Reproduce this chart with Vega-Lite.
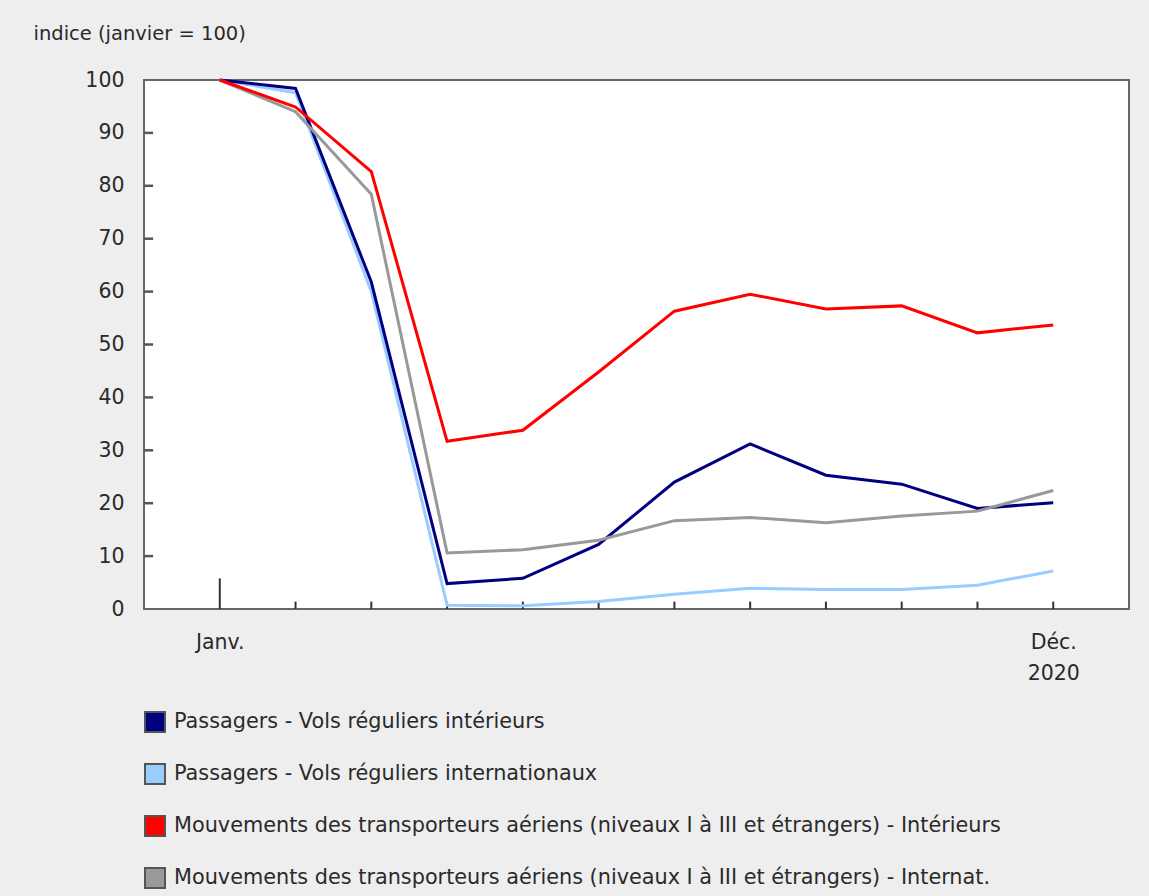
{
  "$schema": "https://vega.github.io/schema/vega-lite/v6.json",
  "width": 985,
  "height": 529,
  "autosize": {"type": "none"},
  "padding": {"left": 144, "top": 80, "right": 20, "bottom": 287},
  "background": "#eeeeee",
  "config": {
    "font": "DejaVu Sans",
    "view": {"fill": "white", "stroke": "#666666", "strokeWidth": 2},
    "axis": {"labelFont": "DejaVu Sans", "labelColor": "#2a2a2a", "labelFontSize": 20.5, "grid": false, "domain": false, "ticks": false}
  },
  "resolve": {"legend": {"color": "independent"}},
  "datasets": {
    "series": [
      {"serie": "Passagers - Vols réguliers internationaux", "mois": 1, "valeur": 100},
      {"serie": "Passagers - Vols réguliers internationaux", "mois": 2, "valeur": 97.6},
      {"serie": "Passagers - Vols réguliers internationaux", "mois": 3, "valeur": 60.0},
      {"serie": "Passagers - Vols réguliers internationaux", "mois": 4, "valeur": 0.7},
      {"serie": "Passagers - Vols réguliers internationaux", "mois": 5, "valeur": 0.6},
      {"serie": "Passagers - Vols réguliers internationaux", "mois": 6, "valeur": 1.4},
      {"serie": "Passagers - Vols réguliers internationaux", "mois": 7, "valeur": 2.8},
      {"serie": "Passagers - Vols réguliers internationaux", "mois": 8, "valeur": 3.9},
      {"serie": "Passagers - Vols réguliers internationaux", "mois": 9, "valeur": 3.7},
      {"serie": "Passagers - Vols réguliers internationaux", "mois": 10, "valeur": 3.7},
      {"serie": "Passagers - Vols réguliers internationaux", "mois": 11, "valeur": 4.5},
      {"serie": "Passagers - Vols réguliers internationaux", "mois": 12, "valeur": 7.2},
      {"serie": "Passagers - Vols réguliers intérieurs", "mois": 1, "valeur": 100},
      {"serie": "Passagers - Vols réguliers intérieurs", "mois": 2, "valeur": 98.4},
      {"serie": "Passagers - Vols réguliers intérieurs", "mois": 3, "valeur": 61.8},
      {"serie": "Passagers - Vols réguliers intérieurs", "mois": 4, "valeur": 4.8},
      {"serie": "Passagers - Vols réguliers intérieurs", "mois": 5, "valeur": 5.8},
      {"serie": "Passagers - Vols réguliers intérieurs", "mois": 6, "valeur": 12.2},
      {"serie": "Passagers - Vols réguliers intérieurs", "mois": 7, "valeur": 24.0},
      {"serie": "Passagers - Vols réguliers intérieurs", "mois": 8, "valeur": 31.2},
      {"serie": "Passagers - Vols réguliers intérieurs", "mois": 9, "valeur": 25.3},
      {"serie": "Passagers - Vols réguliers intérieurs", "mois": 10, "valeur": 23.6},
      {"serie": "Passagers - Vols réguliers intérieurs", "mois": 11, "valeur": 19.0},
      {"serie": "Passagers - Vols réguliers intérieurs", "mois": 12, "valeur": 20.1},
      {"serie": "Mouvements des transporteurs aériens (niveaux I à III et étrangers) - Internat.", "mois": 1, "valeur": 100},
      {"serie": "Mouvements des transporteurs aériens (niveaux I à III et étrangers) - Internat.", "mois": 2, "valeur": 94.0},
      {"serie": "Mouvements des transporteurs aériens (niveaux I à III et étrangers) - Internat.", "mois": 3, "valeur": 78.4},
      {"serie": "Mouvements des transporteurs aériens (niveaux I à III et étrangers) - Internat.", "mois": 4, "valeur": 10.6},
      {"serie": "Mouvements des transporteurs aériens (niveaux I à III et étrangers) - Internat.", "mois": 5, "valeur": 11.2},
      {"serie": "Mouvements des transporteurs aériens (niveaux I à III et étrangers) - Internat.", "mois": 6, "valeur": 13.0},
      {"serie": "Mouvements des transporteurs aériens (niveaux I à III et étrangers) - Internat.", "mois": 7, "valeur": 16.7},
      {"serie": "Mouvements des transporteurs aériens (niveaux I à III et étrangers) - Internat.", "mois": 8, "valeur": 17.3},
      {"serie": "Mouvements des transporteurs aériens (niveaux I à III et étrangers) - Internat.", "mois": 9, "valeur": 16.3},
      {"serie": "Mouvements des transporteurs aériens (niveaux I à III et étrangers) - Internat.", "mois": 10, "valeur": 17.6},
      {"serie": "Mouvements des transporteurs aériens (niveaux I à III et étrangers) - Internat.", "mois": 11, "valeur": 18.5},
      {"serie": "Mouvements des transporteurs aériens (niveaux I à III et étrangers) - Internat.", "mois": 12, "valeur": 22.4},
      {"serie": "Mouvements des transporteurs aériens (niveaux I à III et étrangers) - Intérieurs", "mois": 1, "valeur": 100},
      {"serie": "Mouvements des transporteurs aériens (niveaux I à III et étrangers) - Intérieurs", "mois": 2, "valeur": 94.9},
      {"serie": "Mouvements des transporteurs aériens (niveaux I à III et étrangers) - Intérieurs", "mois": 3, "valeur": 82.7},
      {"serie": "Mouvements des transporteurs aériens (niveaux I à III et étrangers) - Intérieurs", "mois": 4, "valeur": 31.7},
      {"serie": "Mouvements des transporteurs aériens (niveaux I à III et étrangers) - Intérieurs", "mois": 5, "valeur": 33.8},
      {"serie": "Mouvements des transporteurs aériens (niveaux I à III et étrangers) - Intérieurs", "mois": 6, "valeur": 44.8},
      {"serie": "Mouvements des transporteurs aériens (niveaux I à III et étrangers) - Intérieurs", "mois": 7, "valeur": 56.3},
      {"serie": "Mouvements des transporteurs aériens (niveaux I à III et étrangers) - Intérieurs", "mois": 8, "valeur": 59.5},
      {"serie": "Mouvements des transporteurs aériens (niveaux I à III et étrangers) - Intérieurs", "mois": 9, "valeur": 56.7},
      {"serie": "Mouvements des transporteurs aériens (niveaux I à III et étrangers) - Intérieurs", "mois": 10, "valeur": 57.3},
      {"serie": "Mouvements des transporteurs aériens (niveaux I à III et étrangers) - Intérieurs", "mois": 11, "valeur": 52.2},
      {"serie": "Mouvements des transporteurs aériens (niveaux I à III et étrangers) - Intérieurs", "mois": 12, "valeur": 53.7}
    ],
    "moisTicks": [
      {"mois": 1}, {"mois": 2}, {"mois": 3}, {"mois": 4}, {"mois": 5}, {"mois": 6},
      {"mois": 7}, {"mois": 8}, {"mois": 9}, {"mois": 10}, {"mois": 11}, {"mois": 12}
    ],
    "yTicks": [
      {"valeur": 10}, {"valeur": 20}, {"valeur": 30}, {"valeur": 40}, {"valeur": 50},
      {"valeur": 60}, {"valeur": 70}, {"valeur": 80}, {"valeur": 90}
    ]
  },
  "layer": [
    {
      "data": {"name": "yTicks"},
      "mark": {"type": "rule", "color": "#555555", "strokeWidth": 2.5},
      "encoding": {
        "y": {"field": "valeur", "type": "quantitative"},
        "x": {"datum": 0},
        "x2": {"datum": 0.12}
      }
    },
    {
      "data": {"name": "moisTicks"},
      "transform": [{"filter": "datum.mois == 1"}],
      "mark": {"type": "rule", "color": "#333333", "strokeWidth": 2},
      "encoding": {
        "x": {"field": "mois", "type": "quantitative", "title": null},
        "y": {"datum": 0},
        "y2": {"datum": 5.8}
      }
    },
    {
      "data": {"name": "moisTicks"},
      "transform": [{"filter": "datum.mois > 1"}],
      "mark": {"type": "rule", "color": "#333333", "strokeWidth": 2},
      "encoding": {
        "x": {"field": "mois", "type": "quantitative", "title": null},
        "y": {"datum": 0},
        "y2": {"datum": 1.4}
      }
    },
    {
      "data": {"name": "series"},
      "mark": {"type": "line", "strokeWidth": 3},
      "encoding": {
        "x": {
          "field": "mois", "type": "quantitative",
          "scale": {"domain": [0, 13], "nice": false, "zero": false},
          "title": null,
          "axis": {
            "values": [1, 2, 3, 4, 5, 6, 7, 8, 9, 10, 11, 12],
            "labelExpr": "datum.value == 1 ? 'Janv.' : (datum.value == 12 ? ['Déc.', '2020'] : '')",
            "labelPadding": 23,
            "labelBaseline": "top",
            "labelLineHeight": 31,
            "labelAlign": "center",
            "labelOverlap": false
          }
        },
        "y": {
          "field": "valeur", "type": "quantitative",
          "scale": {"domain": [0, 100], "nice": false},
          "axis": {
            "values": [0, 10, 20, 30, 40, 50, 60, 70, 80, 90, 100],
            "labelPadding": 20,
            "title": "indice (janvier = 100)",
            "titleAngle": 0,
            "titleX": -111,
            "titleY": -47,
            "titleAlign": "left",
            "titleBaseline": "middle",
            "titleFontSize": 19.5,
            "titleFontWeight": "normal",
            "titleColor": "#2a2a2a",
            "titleFont": "DejaVu Sans"
          }
        },
        "color": {
          "field": "serie", "type": "nominal",
          "scale": {
            "domain": [
              "Passagers - Vols réguliers intérieurs",
              "Passagers - Vols réguliers internationaux",
              "Mouvements des transporteurs aériens (niveaux I à III et étrangers) - Intérieurs",
              "Mouvements des transporteurs aériens (niveaux I à III et étrangers) - Internat."
            ],
            "range": ["#000080", "#99ccff", "#ff0000", "#999999"]
          },
          "legend": null
        }
      }
    },
    {
      "data": {"name": "series"},
      "transform": [{"filter": "datum.mois == 0"}],
      "mark": {"type": "square", "filled": true, "stroke": "#555555", "strokeWidth": 2, "opacity": 1},
      "encoding": {
        "x": {"field": "mois", "type": "quantitative"},
        "y": {"field": "valeur", "type": "quantitative"},
        "color": {
          "field": "serie", "type": "nominal",
          "legend": {
            "orient": "none",
            "legendX": 0,
            "legendY": 631,
            "direction": "vertical",
            "title": null,
            "padding": 0,
            "symbolType": "square",
            "symbolSize": 400,
            "symbolStrokeWidth": 2,
            "symbolStrokeColor": "#555555",
            "symbolOpacity": 1,
            "labelFontSize": 20.8,
            "labelFont": "DejaVu Sans",
            "labelColor": "#2a2a2a",
            "labelLimit": 2000,
            "labelOffset": 8,
            "rowPadding": 24,
            "encode": {
              "symbols": {
                "update": {
                  "stroke": {"value": "#555555"},
                  "strokeWidth": {"value": 2}
                }
              }
            }
          }
        }
      }
    }
  ]
}
